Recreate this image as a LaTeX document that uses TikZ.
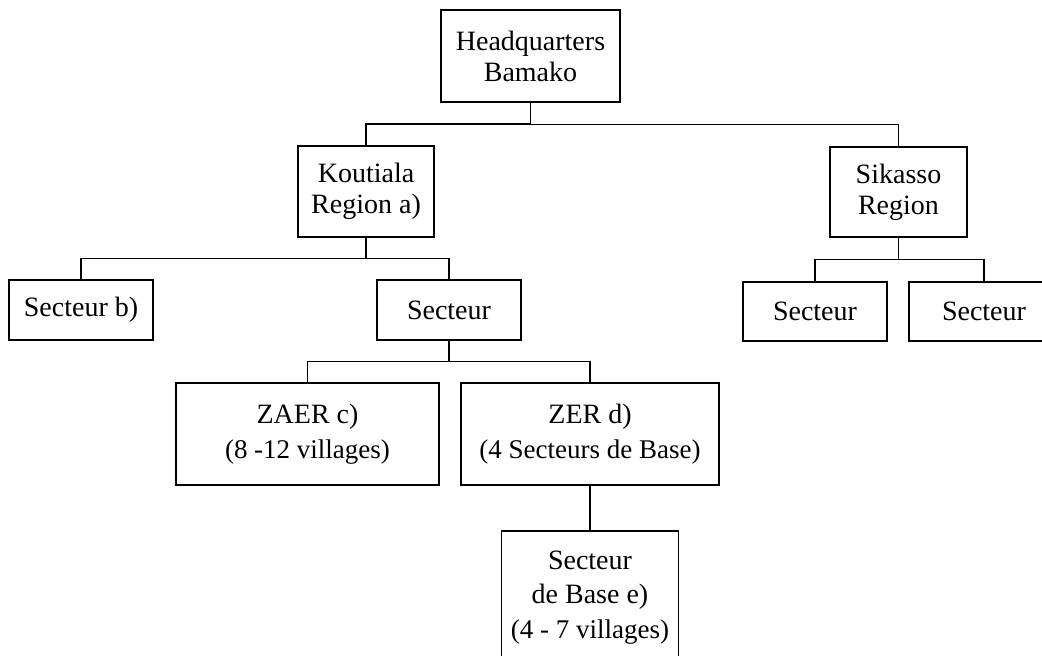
\documentclass[tikz,border=0pt]{standalone}
\usepackage{fontspec}
\setmainfont{Liberation Serif}
\usetikzlibrary{calc}

\begin{document}
\begin{tikzpicture}[
        x=1pt, y=-1pt,
        box/.style={draw, line width=1.3pt, inner sep=0pt, align=center,
            font=\fontsize{28}{31}\selectfont},
        link/.style={line width=1.3pt}
    ]
    \useasboundingbox (0,0) rectangle (1042,656);
    \clip (0,0) rectangle (1042,656);
    % top
    \node[box, minimum width=179pt, minimum height=92pt] (hq) at (530.5,56) {Headquarters\\Bamako};
    % regions
    \node[box, minimum width=136pt, minimum height=91pt] (kout) at (366,191.5) {Koutiala\\Region a)};
    \node[box, minimum width=137pt, minimum height=90pt] (sik) at (898.5,192) {Sikasso\\Region};
    % secteurs
    \node[box, minimum width=144pt, minimum height=60pt] (secb) at (81,310) {Secteur b)};
    \node[box, minimum width=144pt, minimum height=60pt] (sec) at (449,310) {Secteur};
    \node[box, minimum width=144pt, minimum height=59pt] (secl) at (815,311.5) {Secteur};
    \node[box, minimum width=150pt, minimum height=59pt] (secr) at (984,311.5) {Secteur};
    % zones
    \node[box, minimum width=263pt, minimum height=102pt] (zaer) at (307.5,434)
        {ZAER c)\\[4pt]{\fontsize{27}{30}\selectfont (8 -12 villages)}};
    \node[box, minimum width=258pt, minimum height=102pt] (zer) at (590,434)
        {ZER d)\\[4pt]{\fontsize{27}{30}\selectfont (4 Secteurs de Base)}};
    \node[box, minimum width=177pt, minimum height=134pt] (base) at (590,598)
        {Secteur\\[3pt]de Base e)\\[4pt]{\fontsize{27}{30}\selectfont (4 - 7 villages)}};

    \draw[link] (hq.south) |- ($(hq.south)!.5!(kout.north)$) -| (kout.north);
    \draw[link] (hq.south) |- ($(hq.south)!.5!(sik.north)$) -| (sik.north);
    \draw[link] (kout.south) |- ($(kout.south)!.5!(secb.north)$) -| (secb.north);
    \draw[link] (kout.south) |- ($(kout.south)!.5!(sec.north)$) -| (sec.north);
    \draw[link] (sik.south) |- ($(sik.south)!.5!(secl.north)$) -| (secl.north);
    \draw[link] (sik.south) |- ($(sik.south)!.5!(secr.north)$) -| (secr.north);
    \draw[link] (sec.south) |- ($(sec.south)!.5!(zaer.north)$) -| (zaer.north);
    \draw[link] (sec.south) |- ($(sec.south)!.5!(zer.north)$) -| (zer.north);
    \draw[link] (zer.south) -- (base.north);
\end{tikzpicture}
\end{document}
